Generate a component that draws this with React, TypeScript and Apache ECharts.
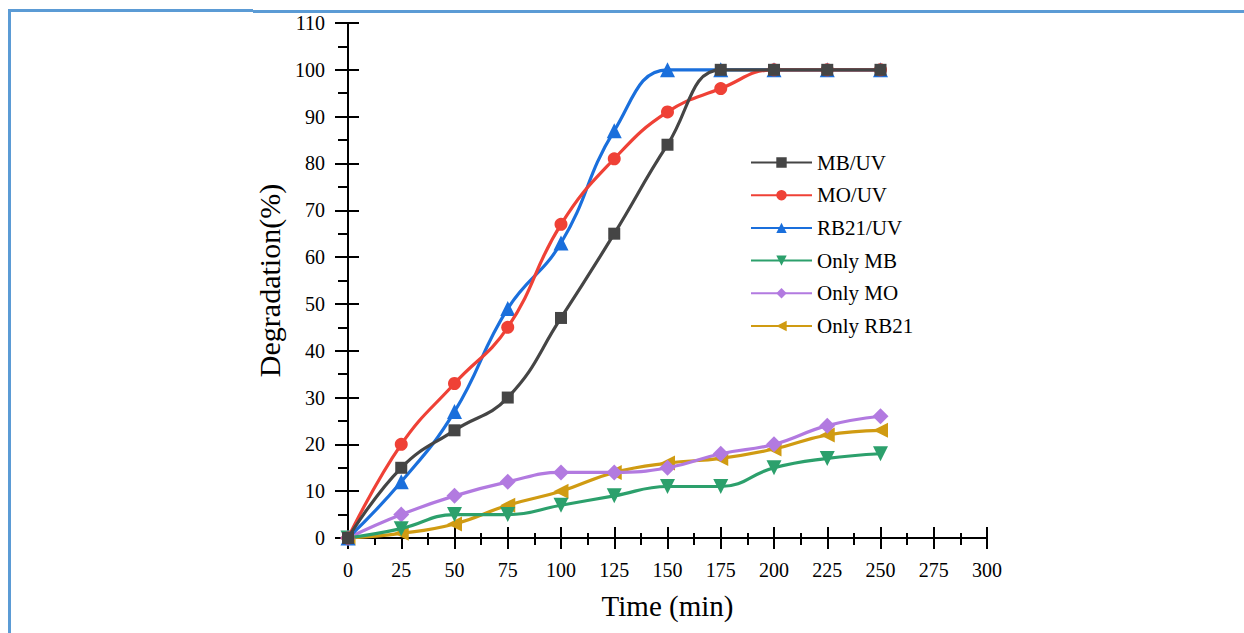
import React, { useEffect, useRef } from "react";
import * as echarts from "echarts";

const times = [0, 25, 50, 75, 100, 125, 150, 175, 200, 225, 250];
const mbUV = [0, 15, 23, 30, 47, 65, 84, 100, 100, 100, 100];
const moUV = [0, 20, 33, 45, 67, 81, 91, 96, 100, 100, 100];
const rb21UV = [0, 12, 27, 49, 63, 87, 100, 100, 100, 100, 100];
const onlyMB = [0, 2, 5, 5, 7, 9, 11, 11, 15, 17, 18];
const onlyMO = [0, 5, 9, 12, 14, 14, 15, 18, 20, 24, 26];
const onlyRB21 = [0, 1, 3, 7, 10, 14, 16, 17, 19, 22, 23];

const seriesNames = ["MB/UV", "MO/UV", "RB21/UV", "Only MB", "Only MO", "Only RB21"];
const seriesColors = ["#454545", "#ef4136", "#1a6fdc", "#2ca06c", "#b27ae0", "#d09b12"];
const seriesSymbols = ["rect", "circle", "triangle", "triangle", "diamond", "triangle"];
const seriesRotate = [0, 0, 0, 180, 0, 90];
const seriesSizes = [12, 13, 15, 15, 16, 15];
const seriesData = [mbUV, moUV, rb21UV, onlyMB, onlyMO, onlyRB21];

const FONT = "Liberation Serif";

export default function App() {
  const ref = useRef<HTMLDivElement>(null);
  useEffect(() => {
    if (!ref.current) return;
    const chart = echarts.init(ref.current, null, { renderer: "svg" });
    const axisCommon = {
      type: "value" as const,
      axisLine: { show: true, lineStyle: { color: "#000", width: 2 } },
      splitLine: { show: false },
    };
    chart.setOption({
      animation: false,
      backgroundColor: "#fff",
      grid: { left: 348, right: 257, top: 23, bottom: 95, containLabel: false },
      legend: {
        orient: "vertical",
        left: 745,
        top: 147,
        itemWidth: 61,
        itemHeight: 13,
        itemGap: 11.7,
        data: seriesNames,
        textStyle: { fontFamily: FONT, fontSize: 21, color: "#000" },
      },
      xAxis: [
        {
          ...axisCommon,
          min: 0,
          max: 300,
          interval: 25,
          name: "Time (min)",
          nameLocation: "middle",
          nameGap: 53,
          nameTextStyle: { fontFamily: FONT, fontSize: 29, color: "#000" },
          axisTick: { show: true, length: 11, lineStyle: { color: "#000", width: 2 } },
          minorTick: { show: true, splitNumber: 2, length: 7, lineStyle: { color: "#000", width: 2 } },
          axisLabel: { fontFamily: FONT, fontSize: 20, color: "#000", margin: 22 },
        },
        {
          ...axisCommon,
          min: 0,
          max: 300,
          interval: 25,
          position: "bottom",
          axisLine: { show: false },
          axisTick: { show: true, inside: true, length: 11, lineStyle: { color: "#000", width: 2 } },
          minorTick: { show: true, splitNumber: 2, length: 5, lineStyle: { color: "#000", width: 2 } },
          axisLabel: { show: false },
        },
      ],
      yAxis: [
        {
          ...axisCommon,
          min: 0,
          max: 110,
          interval: 10,
          name: "Degradation(%)",
          nameLocation: "middle",
          nameGap: 60,
          nameTextStyle: { fontFamily: FONT, fontSize: 30, color: "#000" },
          axisTick: { show: true, length: 13, lineStyle: { color: "#000", width: 2 } },
          minorTick: { show: true, splitNumber: 2, length: 10, lineStyle: { color: "#000", width: 2 } },
          axisLabel: { fontFamily: FONT, fontSize: 20, color: "#000", margin: 23 },
        },
        {
          ...axisCommon,
          min: 0,
          max: 110,
          interval: 10,
          position: "left",
          axisLine: { show: false },
          axisTick: { show: true, inside: true, length: 11, lineStyle: { color: "#000", width: 2 } },
          axisLabel: { show: false },
        },
      ],
      series: seriesNames.map((name, i) => ({
        name,
        type: "line",
        smooth: 0.45,
        xAxisIndex: 0,
        yAxisIndex: 0,
        data: times.map((t, j) => [t, seriesData[i][j]]),
        symbol: seriesSymbols[i],
        symbolRotate: seriesRotate[i],
        symbolSize: seriesSizes[i],
        itemStyle: { color: seriesColors[i] },
        lineStyle: { color: seriesColors[i], width: 3.2 },
        z: 10 - i,
      })),
      graphic: [
        { type: "rect", shape: { x: 8, y: 9, width: 245, height: 3 }, style: { fill: "#5b9bd5" } },
        { type: "rect", shape: { x: 253, y: 10, width: 991, height: 3 }, style: { fill: "#5b9bd5" } },
        { type: "rect", shape: { x: 8, y: 9, width: 3, height: 624 }, style: { fill: "#5b9bd5" } },
      ],
    });
    return () => chart.dispose();
  }, []);
  return (
    <div
      ref={ref}
      style={{ position: "fixed", left: 0, top: 0, width: 1244, height: 633 }}
    />
  );
}
